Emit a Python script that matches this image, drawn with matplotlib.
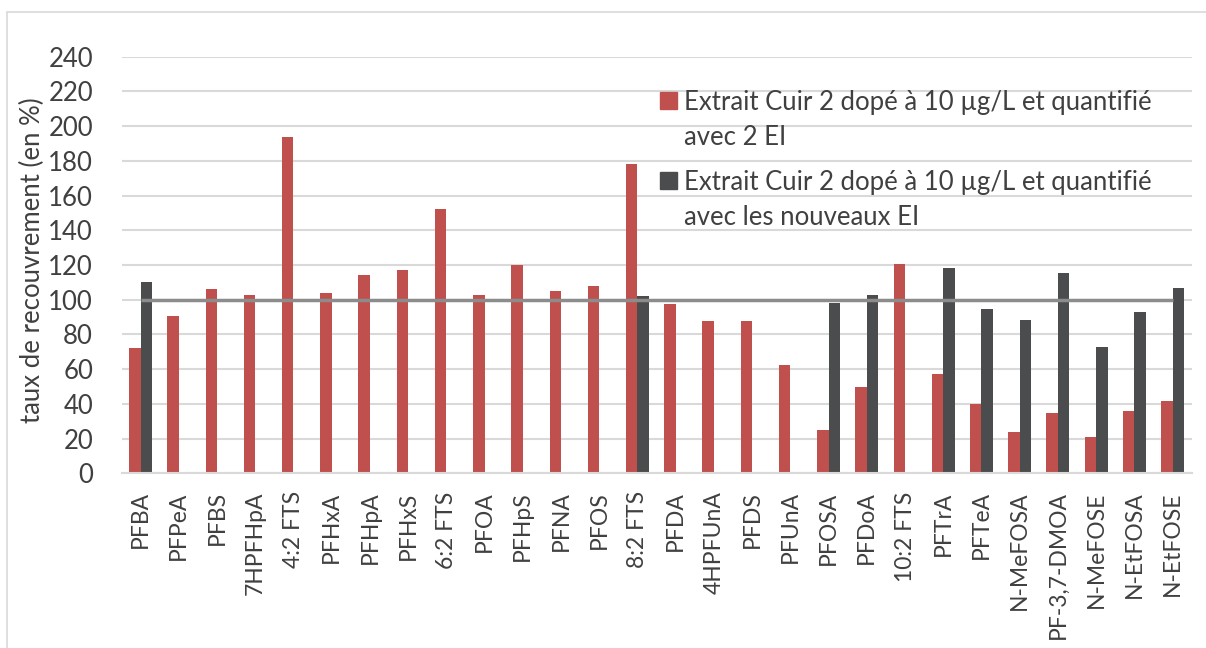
import numpy as np
import matplotlib
matplotlib.use("Agg")
import matplotlib.pyplot as plt
from matplotlib.patches import Rectangle

plt.rcParams['font.family'] = ['Lato', 'DejaVu Sans']

compounds = ["PFBA", "PFPeA", "PFBS", "7HPFHpA", "4:2 FTS", "PFHxA", "PFHpA", "PFHxS",
             "6:2 FTS", "PFOA", "PFHpS", "PFNA", "PFOS", "8:2 FTS", "PFDA", "4HPFUnA",
             "PFDS", "PFUnA", "PFOSA", "PFDoA", "10:2 FTS", "PFTrA", "PFTeA", "N-MeFOSA",
             "PF-3,7-DMOA", "N-MeFOSE", "N-EtFOSA", "N-EtFOSE"]

# recovery with 2 internal standards (%)
recovery_2ei = [72, 90.5, 106, 102.5, 194, 104, 114, 117,
                152.5, 102.5, 120, 105, 108, 178, 97.5, 87.5,
                88, 62.5, 25, 49.5, 120.5, 57, 40, 24,
                35, 21, 36, 41.5]

# recovery with the new internal standards (%); NaN where not determined
recovery_new_ei = [110, np.nan, np.nan, np.nan, np.nan, np.nan, np.nan, np.nan,
                   np.nan, np.nan, np.nan, np.nan, np.nan, 102, np.nan, np.nan,
                   np.nan, np.nan, 98, 103, np.nan, 118, 94.5, 88.5,
                   115.5, 73, 93, 106.5]

target_recovery = 100

label_2ei = ["Extrait Cuir 2 dopé à 10 µg/L et quantifié", "avec 2 EI"]
label_new_ei = ["Extrait Cuir 2 dopé à 10 µg/L et quantifié", "avec les nouveaux EI"]

RED = "#C0504D"
DARK = "#4B4C4E"
TEXT = "#404040"
GRID = "#D9D9D9"
FS = 18.5

W, H = 1206, 648
fig = plt.figure(figsize=(W / 100, H / 100), dpi=100)
ax = fig.add_axes([121.5 / W, 1 - 473.3 / H, (1191.7 - 121.5) / W, (473.3 - 56.7) / H])

x = np.arange(len(compounds))
bw = 0.3
ax.bar(x - bw / 2, recovery_2ei, width=bw, color=RED, zorder=2)
ax.bar(x + bw / 2, recovery_new_ei, width=bw, color=DARK, zorder=2)
ax.plot(x, [target_recovery] * len(x), color="#8C8C8C", lw=2.5, zorder=3,
        solid_capstyle="butt")

ax.set_xlim(-0.5, len(compounds) - 0.5)
ax.set_ylim(0, 240)
ax.set_yticks(np.arange(0, 241, 20))
ax.yaxis.grid(True, color=GRID, lw=1.5, zorder=0)
ax.set_axisbelow(True)
for side in ["top", "right", "left"]:
    ax.spines[side].set_visible(False)
ax.spines["bottom"].set_color(GRID)
ax.spines["bottom"].set_linewidth(1.5)
ax.tick_params(length=0, labelcolor=TEXT)
ax.tick_params(axis="y", pad=20.5, labelsize=FS)
ax.tick_params(axis="x", pad=13, labelsize=16.5)
ax.set_xticks(x)
ax.set_xticklabels(compounds, rotation=90, va="top", ha="center")

fig.text(32 / W, 1 - 260 / H, "taux de recouvrement (en %)", rotation=90,
         ha="center", va="center", fontsize=FS, color=TEXT)

# legend: colour square plus two text lines per entry
for y_top, lines, col in [(92, label_2ei, RED), (172, label_new_ei, DARK)]:
    fig.patches.append(Rectangle((660 / W, 1 - (y_top + 17) / H), 17 / W, 17 / H,
                                 transform=fig.transFigure, color=col, figure=fig))
    for k, line in enumerate(lines):
        fig.text(684 / W, 1 - (y_top + 8 + 35 * k) / H, line, ha="left",
                 va="center_baseline", fontsize=FS, color=TEXT)

# outer frame
fig.patches.append(Rectangle((7 / W, -0.1), 1.2, 1 - 12 / H + 0.1,
                             transform=fig.transFigure, fill=False,
                             edgecolor="#D9D9D9", lw=1.2, figure=fig))

fig.savefig("out.png", dpi=100)
